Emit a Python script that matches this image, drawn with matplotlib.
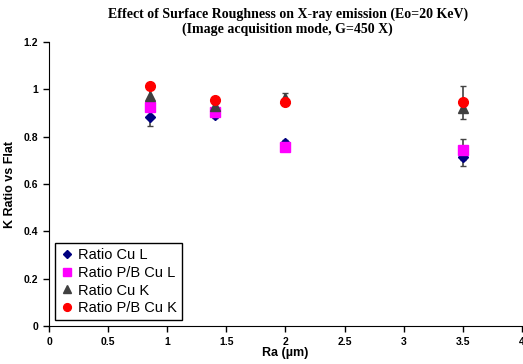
import matplotlib
matplotlib.use('Agg')
import matplotlib.pyplot as plt
from matplotlib.lines import Line2D

# Data
ra = [0.85, 1.4, 2.0, 3.5]

cu_l = [0.885, 0.89, 0.775, 0.715]
cu_l_err = [0.04, 0.01, 0.01, 0.04]

pb_cu_l = [0.925, 0.905, 0.757, 0.745]
pb_cu_l_err = [0.01, 0.01, 0.01, 0.045]

cu_k = [0.97, 0.93, 0.965, 0.92]
cu_k_err = [0.03, 0.01, 0.02, 0.01]

pb_cu_k = [1.015, 0.955, 0.948, 0.945]
pb_cu_k_err = [0.01, 0.01, 0.01, 0.07]

xticks = [0, 0.5, 1, 1.5, 2, 2.5, 3, 3.5, 4]
yticks = [0, 0.2, 0.4, 0.6, 0.8, 1, 1.2]

fig = plt.figure(figsize=(5.23, 3.64), dpi=100)
ax = fig.add_axes([0.0937, 0.1044, 0.9043, 0.7802])

series = [
    (cu_l, cu_l_err, 'D', '#000080', 5, 'Ratio Cu L'),
    (pb_cu_l, pb_cu_l_err, 's', '#FF00FF', 7, 'Ratio P/B Cu L'),
    (cu_k, cu_k_err, '^', '#404040', 7, 'Ratio Cu K'),
    (pb_cu_k, pb_cu_k_err, 'o', '#FF0000', 7, 'Ratio P/B Cu K'),
]
handles = []
for vals, errs, mk, col, ms, lab in series:
    ax.errorbar(ra, vals, yerr=errs, fmt=mk, color=col, markersize=ms,
                ecolor='#444444', elinewidth=1.2, capsize=2.5, capthick=1,
                linestyle='none')
    handles.append(Line2D([], [], marker=mk, color=col, linestyle='none',
                          markersize=ms * 0.8, label=lab))

ax.set_xlim(0, 4)
ax.set_ylim(0, 1.2)
ax.set_xticks(xticks)
ax.set_xticklabels(['0', '0.5', '1', '1.5', '2', '2.5', '3', '3.5', '4'],
                   fontsize=7.5, fontweight='bold', family='Liberation Sans')
ax.set_yticks(yticks)
ax.set_yticklabels(['0', '0.2', '0.4', '0.6', '0.8', '1', '1.2'],
                   fontsize=7.5, fontweight='bold', family='Liberation Sans')
ax.tick_params(direction='out', length=4, width=1, pad=4)
ax.spines['top'].set_visible(False)
ax.spines['right'].set_visible(False)

ax.set_xlabel('Ra (µm)', fontsize=9, fontweight='bold', family='Liberation Sans', labelpad=0)
ax.set_ylabel('K Ratio vs Flat', fontsize=9, fontweight='bold', family='Liberation Sans', labelpad=5)

fig.text(0.55, 0.962, 'Effect of Surface Roughness on X-ray emission (Eo=20 KeV)',
         ha='center', va='center', fontsize=10, fontweight='bold', family='Liberation Serif')
fig.text(0.55, 0.92, '(Image acquisition mode, G=450 X)',
         ha='center', va='center', fontsize=10, fontweight='bold', family='Liberation Serif')

leg = ax.legend(handles=handles, loc='lower left', bbox_to_anchor=(0.012, 0.02),
                prop={'family': 'Liberation Sans', 'size': 10.5},
                frameon=True, fancybox=False, edgecolor='black', framealpha=1,
                handletextpad=0.25, borderpad=0.35, labelspacing=0.25,
                handlelength=1.0, borderaxespad=0)
leg.get_frame().set_linewidth(1)

fig.savefig('out.png', dpi=100)
